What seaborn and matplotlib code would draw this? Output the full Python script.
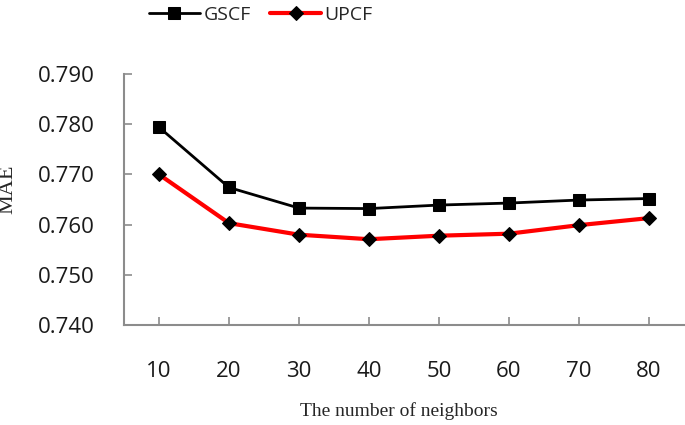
import pandas as pd
import numpy as np
import matplotlib
matplotlib.use('Agg')
import matplotlib.pyplot as plt
import seaborn as sns

# values
neighbors = [10, 20, 30, 40, 50, 60, 70, 80]
gscf = [0.7794, 0.7674, 0.7633, 0.7632, 0.7639, 0.7643, 0.7649, 0.7652]
upcf = [0.7700, 0.7603, 0.7580, 0.7571, 0.7578, 0.7582, 0.7599, 0.7613]
yticks = [0.740, 0.750, 0.760, 0.770, 0.780, 0.790]

df = pd.DataFrame({
    'k': neighbors * 2,
    'mae': gscf + upcf,
    'method': ['GSCF'] * len(gscf) + ['UPCF'] * len(upcf),
})

sns.set_style('white')
plt.rcParams['font.family'] = ['Open Sans', 'DejaVu Sans']

fig = plt.figure(figsize=(6.85, 4.25), dpi=100)
ax = fig.add_axes([0.181, 0.235, 0.8175, 0.591])

# draw each series separately so line width can differ
sub = df[df['method'] == 'GSCF']
sns.lineplot(data=sub, x='k', y='mae', ax=ax, color='black', lw=2,
             marker='s', ms=9, mfc='black', mec='black', label='GSCF')
sub = df[df['method'] == 'UPCF']
sns.lineplot(data=sub, x='k', y='mae', ax=ax, color='#ff0000', lw=3,
             marker='D', ms=7, mfc='black', mec='black', label='UPCF')

ax.set_xlim(5, 85)
ax.set_ylim(0.740, 0.790)
ax.set_xticks(neighbors)
ax.set_xticklabels([str(n) for n in neighbors])
ax.set_yticks(yticks)
ax.set_yticklabels([f'{v:.3f}' for v in yticks])

for s in ['top', 'right']:
    ax.spines[s].set_visible(False)
for s in ['left', 'bottom']:
    ax.spines[s].set_color('#8c8c8c')
    ax.spines[s].set_linewidth(1.5)

ax.tick_params(axis='both', direction='in', length=6, width=1.2,
               color='#8c8c8c', labelsize=16, labelcolor='#1a1a1a')
ax.tick_params(axis='y', pad=21, left=True)
ax.tick_params(axis='x', pad=26, bottom=True)

ax.set_xlabel('The number of neighbors', family='Liberation Serif', fontsize=14)
ax.xaxis.set_label_coords(0.49, -0.305)
ax.set_ylabel('MAE', family='Liberation Serif', fontsize=16)
ax.yaxis.set_label_coords(-0.19, 0.54)

ax.get_legend().remove()
h, l = ax.get_legend_handles_labels()
fig.legend(h, l, loc='center', bbox_to_anchor=(261 / 685, 1 - 15 / 425), ncol=2,
           frameon=False, fontsize=14, handlelength=2.6, handletextpad=0.2,
           columnspacing=1.0)

fig.savefig('out.png', dpi=100)
